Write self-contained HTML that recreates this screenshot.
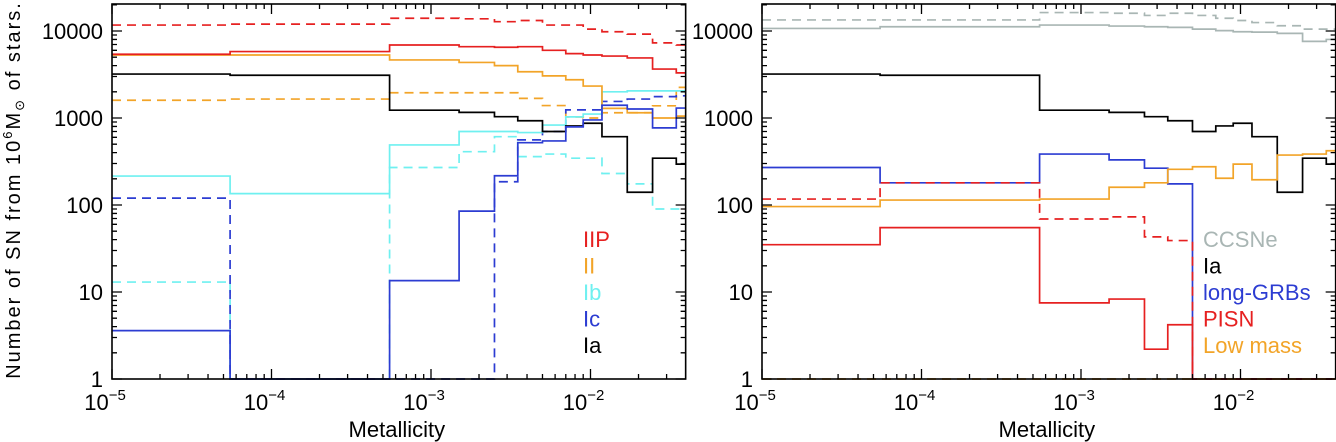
<!DOCTYPE html>
<html><head><meta charset="utf-8"><style>
html,body{margin:0;padding:0;background:#fff;}
svg{display:block;font-family:"Liberation Sans",sans-serif;}
</style></head><body>
<svg id="fig" width="1336" height="442" viewBox="0 0 1336 442" xmlns="http://www.w3.org/2000/svg">
<text transform="translate(20,190) rotate(-90)" text-anchor="middle" font-size="20" letter-spacing="2.0">Number of SN from 10<tspan font-size="13" dy="-8">6</tspan><tspan dy="8">M</tspan><tspan font-size="13" dy="4">⊙</tspan><tspan dy="-4"> of stars.</tspan></text>
</svg>
<script>
// ---- data ----
const binEdges = [1e-5, 5.5e-5, 5.5e-4, 1.5e-3, 2.5e-3, 3.5e-3, 5.0e-3, 7.0e-3, 9.0e-3, 1.18e-2, 1.7e-2, 2.45e-2, 3.45e-2, 3.95e-2];
const xTickExps = [-5, -4, -3, -2];
const yTickVals = [1, 10, 100, 1000, 10000];
const yTickLabels = ["1", "10", "100", "1000", "10000"];

const iipSolid  = [5400, 5800, 6900, 6600, 6500, 6600, 6000, 5500, 5300, 5150, 4900, 3650, 3300];
const iipDashed = [11700, 12000, 14000, 13800, 12800, 13200, 11700, 11700, 10500, 9800, 9200, 7300, 6900];
const iiSolid   = [5300, 5300, 4650, 4350, 4000, 3400, 3050, 2750, 2330, 1290, 1150, 1000, 1050];
const iiDashed  = [1600, 1650, 1950, 1950, 1950, 1680, 1390, 1030, 1000, 1150, 1150, 1380, 2250];
const ibSolid   = [215, 135, 490, 700, 700, 680, 830, 1030, 1110, 2000, 2050, 2050, 2050];
const ibDashed  = [13, 1, 270, 410, 610, 360, 385, 345, 345, 230, 175, 90, 90];
const icSolid   = [3.6, 1, 13.5, 85, 217, 520, 545, 790, 950, 1400, 1270, 770, 1300];
const icDashed  = [120, 1, 1, 1, 185, 560, 700, 1240, 1240, 1550, 1650, 1760, 1800];
const iaSolid   = [3200, 3100, 1230, 1160, 1035, 930, 700, 810, 870, 610, 140, 345, 295];

const ccSolid   = [10700, 11200, 11700, 11400, 11200, 11000, 10500, 10100, 9800, 9700, 9400, 7600, 8000];
const ccDashed  = [13400, 13400, 16300, 16000, 15100, 16000, 15100, 14000, 13200, 12500, 11500, 10500, 10500];
const grbSolid  = [270, 180, 385, 330, 265, 175, 1, 1, 1, 1, 1, 1, 1];
const pisnSolid = [35, 55, 7.5, 8.3, 2.2, 4.2, 1, 1, 1, 1, 1, 1, 1];
const pisnDashed= [117, 180, 69, 73, 43, 39, 1, 1, 1, 1, 1, 1, 1];
const lowMass   = [96, 114, 117, 160, 180, 257, 275, 203, 295, 195, 375, 385, 420];
const floorLine = [1, 1, 1, 1, 1, 1, 1, 1, 1, 1, 1, 1, 1];

const leftLegend  = ["IIP", "II", "Ib", "Ic", "Ia"];
const rightLegend = ["CCSNe", "Ia", "long-GRBs", "PISN", "Low mass"];

// ---- drawing ----
const NS = "http://www.w3.org/2000/svg";
const svg = document.getElementById('fig');
const C = {red:"#e62020", orange:"#f2a428", cyan:"#6ff0f0", blue:"#2c3cd2", black:"#000", gray:"#a9b6b4"};
const YBOT = 379, YTOP = 4, YDEC = 87, XDEC = 159.5;
const FS = 22;
function mk(tag, attrs, parent){const e=document.createElementNS(NS,tag);for(const k in attrs)e.setAttribute(k,attrs[k]);(parent||svg).appendChild(e);return e;}
function yS(v){return YBOT - YDEC*Math.log10(Math.max(v,1));}

function panel(x0, name, series, legendNames, legendColors, legendX){
  const xS = z => x0 + (Math.log10(z)+5)*XDEC;
  const x1 = xS(3.95e-2);
  const g = mk('g', {});
  
  
  const cid = name+'-clip';
  const cp = mk('clipPath', {id: cid}, g);
  mk('rect', {x: x0, y: YTOP, width: x1-x0, height: YBOT-YTOP+1}, cp);
  const lines = mk('g', {'clip-path': 'url(#'+cid+')'}, g);
  series.forEach(s => {
    let d = 'M' + xS(binEdges[0]) + ' ' + yS(s.vals[0]);
    for (let i=0;i<s.vals.length;i++){
      if (i>0) d += ' V' + yS(s.vals[i]);
      d += ' H' + xS(binEdges[i+1]);
    }
    const p = mk('path', {d: d, fill: 'none', stroke: s.color, 'stroke-width': 1.7}, lines);
    if (s.dash) p.setAttribute('stroke-dasharray', '9,6');
    
    
  });
  const fr = mk('rect', {x: x0, y: YTOP, width: x1-x0, height: YBOT-YTOP, fill: 'none', stroke: '#000', 'stroke-width': 1.6}, g);
  
  
  let td = '';
  for (let e=-5;e<=-2;e++){
    for (let m=1;m<=9;m++){
      const z = m*Math.pow(10,e); if (z>3.95e-2) break;
      const x = xS(z), L = m===1?10:5;
      td += 'M'+x+' '+YBOT+' v'+(-L)+' M'+x+' '+YTOP+' v'+L+' ';
    }
  }
  for (let e=0;e<=4;e++){
    for (let m=1;m<=9;m++){
      const v = m*Math.pow(10,e); const y = yS(v); if (y<YTOP) break;
      const L = m===1?10:5;
      td += 'M'+x0+' '+y+' h'+L+' M'+x1+' '+y+' h'+(-L)+' ';
    }
  }
  mk('path', {d: td, stroke: '#000', 'stroke-width': 1.3, fill: 'none'}, g);
  xTickExps.forEach(e => {
    const t = mk('text', {x: xS(Math.pow(10,e))-7, y: 410, 'font-size': FS, 'text-anchor': 'middle'}, g);
    t.innerHTML = '10<tspan font-size="15" dy="-10">−' + (-e) + '</tspan>';
    
    
  });
  yTickVals.forEach((v,i) => {
    const t = mk('text', {x: x0-9, y: yS(v)+8, 'font-size': FS, 'text-anchor': 'end'}, g);
    t.textContent = yTickLabels[i];
    
    
  });
  const xt = mk('text', {x: (x0+x1)/2 - 2, y: 437, 'font-size': FS, 'text-anchor': 'middle'}, g);
  xt.textContent = 'Metallicity';
  
  
  legendNames.forEach((n,i) => {
    const t = mk('text', {x: legendX, y: 247 + i*26.5, 'font-size': FS, fill: legendColors[i]}, g);
    t.textContent = n;
    
    
  });
}

panel(112, 'left-panel', [
  {name:'iip-dashed', vals: iipDashed, color: C.red, dash: true},
  {name:'ii-dashed', vals: iiDashed, color: C.orange, dash: true},
  {name:'ib-dashed', vals: ibDashed, color: C.cyan, dash: true},
  {name:'ic-dashed', vals: icDashed, color: C.blue, dash: true},
  {name:'ib-solid', vals: ibSolid, color: C.cyan},
  {name:'ii-solid', vals: iiSolid, color: C.orange},
  {name:'iip-solid', vals: iipSolid, color: C.red},
  {name:'ia-solid', vals: iaSolid, color: C.black},
  {name:'ic-solid', vals: icSolid, color: C.blue}
], leftLegend, [C.red, C.orange, C.cyan, C.blue, C.black], 583);

panel(762, 'right-panel', [
  {name:'ccsne-dashed', vals: ccDashed, color: C.gray, dash: true},
  {name:'ccsne-solid', vals: ccSolid, color: C.gray},
  {name:'ia-solid', vals: iaSolid, color: C.black},
  {name:'long-grb-solid', vals: grbSolid, color: C.blue},
  {name:'pisn-dashed', vals: pisnDashed, color: C.red, dash: true},
  {name:'pisn-solid', vals: pisnSolid, color: C.red},
  {name:'low-mass-solid', vals: lowMass, color: C.orange},
  {name:'floor-dashed', vals: floorLine, color: C.orange, dash: true}
], rightLegend, [C.gray, C.black, C.blue, C.red, C.orange], 1203);
</script>
</body></html>
